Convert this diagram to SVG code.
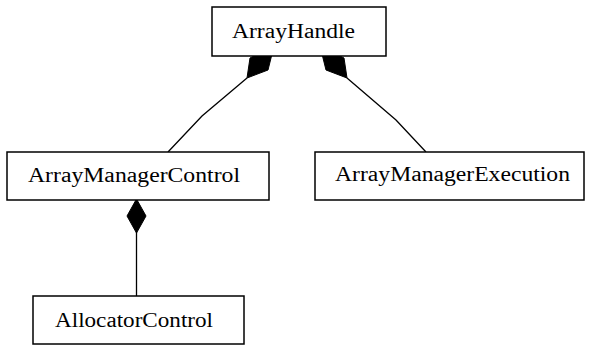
<svg xmlns="http://www.w3.org/2000/svg" width="597" height="345" viewBox="0 0 597 345">
<style>
.box{fill:#fff;stroke:#000;stroke-width:1.5}
.lbl{font-family:"Liberation Serif","Times New Roman",serif;font-size:20px;fill:#000}
.edge{stroke:#000;stroke-width:1.3;fill:none}
.dia{fill:#000;stroke:#000;stroke-width:1}
</style>
<rect width="597" height="345" fill="#fff"/>
<g id="connectors">
<polyline class="edge" points="247,78 202,116 168,152"/>
<polygon class="dia" points="247,78 250,58 274,46 268,70"/>
<polyline class="edge" points="347,78 396,120 426,152"/>
<polygon class="dia" points="347,78 344,58 320,46 326,70"/>
<line class="edge" x1="136.5" y1="232" x2="136.5" y2="296"/>
<polygon class="dia" points="136.5,199 146,216 136.5,233 127,216"/>
</g>
<g id="ArrayHandle">
<rect class="box" x="212" y="7" width="174" height="49"/>
<text class="lbl" x="293.5" y="38" text-anchor="middle" textLength="123" lengthAdjust="spacingAndGlyphs">ArrayHandle</text>
</g>
<g id="ArrayManagerControl">
<rect class="box" x="7" y="152" width="262" height="48"/>
<text class="lbl" x="134" y="182" text-anchor="middle" textLength="212" lengthAdjust="spacingAndGlyphs">ArrayManagerControl</text>
</g>
<g id="ArrayManagerExecution">
<rect class="box" x="315" y="152" width="269" height="48"/>
<text class="lbl" x="452.5" y="181" text-anchor="middle" textLength="235" lengthAdjust="spacingAndGlyphs">ArrayManagerExecution</text>
</g>
<g id="AllocatorControl">
<rect class="box" x="33" y="296" width="211" height="48"/>
<text class="lbl" x="134" y="327" text-anchor="middle" textLength="158" lengthAdjust="spacingAndGlyphs">AllocatorControl</text>
</g>
</svg>
